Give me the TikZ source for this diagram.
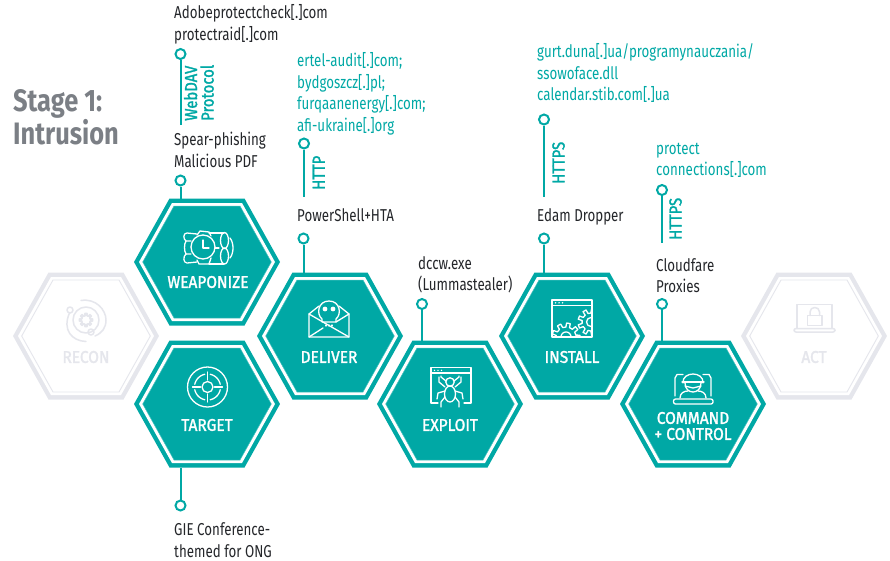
\documentclass[tikz,border=0pt]{standalone}
\usepackage{fontspec}
\setmainfont{Fira Sans}
\newfontfamily\narrowf[FakeStretch=0.775]{Fira Sans}
\newfontfamily\medf[FakeStretch=0.91,FakeBold=1.6]{Fira Sans}
\newfontfamily\protf[FakeStretch=0.85,FakeBold=1.6]{Fira Sans}
\newfontfamily\stagef[FakeStretch=0.82]{Fira Sans}
\definecolor{tealc}{HTML}{00A8A5}
\definecolor{teallight}{HTML}{4CC3C0}
\definecolor{ghost}{HTML}{E5E6EC}
\definecolor{inktext}{HTML}{24262A}
\definecolor{stagegray}{HTML}{7B7F85}
\tikzset{
  hexbox/.style={minimum width=146pt,minimum height=127pt,inner sep=0,outer sep=0},
  hexlabel/.style={inner sep=0,align=center,font=\medf\fontsize{17}{16}\selectfont},
  pinc/.style={circle,draw=tealc,fill=white,line width=2pt,minimum size=10pt,inner sep=0},
  conn/.style={draw=tealc,line width=2pt},
  dark/.style={anchor=west,inner sep=0,align=left,text=inktext,font=\narrowf\fontsize{17.2}{21.5}\selectfont},
  tealtext/.style={anchor=west,inner sep=0,align=left,text=tealc,font=\narrowf\fontsize{17.2}{21.5}\selectfont},
  prot/.style={rotate=90,anchor=south west,inner sep=0,align=left,text=tealc,font=\protf\fontsize{17.5}{16.5}\selectfont},
  ico/.style={line width=1.3pt,line cap=round,line join=round},
  innerteal/.style={fill=tealc,draw=teallight,line width=.5pt},
  innerghost/.style={fill=white,draw=ghost,line width=.9pt},
}
\newcommand\hexpoly[5]{% style, cx, cy, W, H
  \pgfmathsetmacro\hxT{#4-0.559*#5}
  \path[#1] ({#2-#4},#3) -- ({#2-\hxT},{#3-#5}) -- ({#2+\hxT},{#3-#5}) -- ({#2+#4},#3) -- ({#2+\hxT},{#3+#5}) -- ({#2-\hxT},{#3+#5}) -- cycle;
}
\newcommand\hexcell[5]{% name, cx, cy, colour, inner style
  \hexpoly{fill=#4}{#2}{#3}{73}{63.5}
  \hexpoly{fill=white}{#2}{#3}{68}{59}
  \hexpoly{#5}{#2}{#3}{64.3}{56}
  \node[hexbox] (#1) at (#2,#3) {};
}
\newcommand\gearline[6]{% style, cx, cy, r1, r2, teeth
  \pgfmathsetmacro\gstep{360/#6}
  \pgfmathsetmacro\gw{\gstep*0.27}
  \begin{scope}[shift={(#2,#3)}]
  \foreach \i in {1,...,#6}{
    \pgfmathsetmacro\ga{\i*\gstep}
    \draw[ico,#1] ({\ga-\gw}:#4) -- ({\ga-\gw*.7}:#5) -- ({\ga+\gw*.7}:#5) -- ({\ga+\gw}:#4) -- ({\ga+\gstep-\gw}:#4);
  }
  \end{scope}
}
\begin{document}
\begin{tikzpicture}[x=1pt,y=-1pt]
\useasboundingbox (0,0) rectangle (890,560);

% stage title
\node[anchor=west,inner sep=0,align=left,text=stagegray,font=\stagef\bfseries\fontsize{31}{33}\selectfont] (stage) at (13,117) {Stage 1:\\Intrusion};

% hexagons
\hexcell{recon}{86}{336}{ghost}{innerghost}
\hexcell{weaponize}{207}{262}{tealc}{innerteal}
\hexcell{target}{207}{404}{tealc}{innerteal}
\hexcell{deliver}{330}{336}{tealc}{innerteal}
\hexcell{exploit}{450}{404}{tealc}{innerteal}
\hexcell{install}{572}{336}{tealc}{innerteal}
\hexcell{command}{693}{404}{tealc}{innerteal}
\hexcell{act}{814}{336}{ghost}{innerghost}

% hexagon labels
\node[hexlabel,text=ghost] (lrecon) at (86,357) {RECON};
\node[hexlabel,text=white] (lweapon) at (208,282) {WEAPONIZE};
\node[hexlabel,text=white] (ltarget) at (207,425) {TARGET};
\node[hexlabel,text=white] (ldeliver) at (329,357) {DELIVER};
\node[hexlabel,text=white] (lexploit) at (450,425) {EXPLOIT};
\node[hexlabel,text=white] (linstall) at (572,357) {INSTALL};
\node[hexlabel,text=white] (lcommand) at (693,426) {COMMAND\\+ CONTROL};
\node[hexlabel,text=ghost] (lact) at (814,357) {ACT};

% pins
\node[pinc] (pwebdav) at (180.5,54) {};
\coordinate (ewebdav) at (180.5,125);
\draw[conn] (pwebdav) -- (ewebdav);
\node[pinc] (pweapon) at (180.5,180.5) {};
\draw[conn] (pweapon) -- (pweapon |- weaponize.north);
\node[pinc] (phttp) at (304,143.5) {};
\coordinate (ehttp) at (304,197);
\draw[conn] (phttp) -- (ehttp);
\node[pinc] (pdeliver) at (303.5,238.5) {};
\draw[conn] (pdeliver) -- (pdeliver |- deliver.north);
\node[pinc] (pexploit) at (422,304) {};
\draw[conn] (pexploit) -- (pexploit |- exploit.north);
\node[pinc] (phttps) at (544,119.5) {};
\coordinate (ehttps) at (544,197);
\draw[conn] (phttps) -- (ehttps);
\node[pinc] (pinstall) at (544,238.5) {};
\draw[conn] (pinstall) -- (pinstall |- install.north);
\node[pinc] (phttpsb) at (662,190) {};
\coordinate (ehttpsb) at (662,243);
\draw[conn] (phttpsb) -- (ehttpsb);
\node[pinc] (pcommand) at (662,304) {};
\draw[conn] (pcommand) -- (pcommand |- command.north);
\node[pinc] (ptarget) at (180.5,505.5) {};
\draw[conn] (ptarget) -- (ptarget |- target.south);

% protocol labels
\node[prot] (twebdav) at (214,121) {WebDAV\\Protocol};
\node[prot] (thttp) at (325,190) {HTTP};
\node[prot] (thttps) at (565,184) {HTTPS};
\node[prot] (thttpsb) at (682,240) {HTTPS};

% texts
\node[dark] (t1) at (174,24.5) {Adobeprotectcheck[.]com\\protectraid[.]com};
\node[dark] (t2) at (174,150) {Spear-phishing\\Malicious PDF};
\node[tealtext] (t3) at (297,94) {ertel-audit[.]com;\\bydgoszcz[.]pl;\\furqaanenergy[.]com;\\afi-ukraine[.]org};
\node[dark] (t4) at (297,215) {PowerShell+HTA};
\node[dark] (t5) at (418,275) {dccw.exe\\(Lummastealer)};
\node[tealtext] (t6) at (537,73) {gurt.duna[.]ua/programynauczania/\\ssowoface.dll\\calendar.stib.com[.]ua};
\node[dark] (t7) at (537,217) {Edam Dropper};
\node[tealtext] (t8) at (656,160.5) {protect\\connections[.]com};
\node[dark] (t9) at (656,275.5) {Cloudfare\\Proxies};
\node[dark] (t10) at (174,540) {GIE Conference-\\themed for ONG};

% RECON icon
\begin{scope}[ico,draw=ghost,line width=1.5pt]
  \draw (86,320) circle[radius=13];
  \draw (69.5,313) .. controls (62,330) and (72,341) .. (86,341.5);
  \draw (70,310) circle[radius=3];
  \draw (91,332) circle[radius=3];
  \draw (81,300.5) .. controls (96,298) and (106,310) .. (106,320) .. controls (106,328) and (102,333) .. (95,336);
\end{scope}
\gearline{draw=ghost,line width=1.7pt}{86}{320}{4.5}{6.5}{8}

% WEAPONIZE icon
\begin{scope}[ico,draw=white]
  \draw (203,247) circle[radius=12];
  \draw (203,240) -- (203,248) -- (209,248);
  \draw (197,234) -- (187,233) .. controls (183,233) and (183,239) .. (186,241) -- (191,241);
  \draw (191,254) -- (186,254) .. controls (183,256) and (183,263) .. (187,263) -- (197,262);
  \draw (186,241) .. controls (184,244) and (184,251) .. (186,254);
  \draw (197,235) -- (200,231) -- (209,232) -- (211,236);
  \draw (197,260) -- (199,264) -- (209,264) -- (211,258);
  \draw (209,233) -- (224,233);
  \draw (209,264) -- (224,264);
  \draw (215,248) -- (219,248);
  \draw (224.5,240.5) ellipse[x radius=4,y radius=8];
  \draw (224.5,256) ellipse[x radius=4,y radius=8];
  \draw (230,238) .. controls (234,243) and (234,253) .. (230,258);
\end{scope}

% TARGET icon
\begin{scope}[ico,draw=white]
  \draw (207.5,387) circle[radius=20];
  \draw (207.5,387) circle[radius=5.5];
  \draw (207.5,372) -- (207.5,380);
  \draw (207.5,394) -- (207.5,402);
  \draw (192.5,387) -- (200.5,387);
  \draw (214.5,387) -- (222.5,387);
  \begin{scope}[shift={(207.5,387)}]
    \foreach \a in {12,102,192,282}
      \draw plot[domain=\a:{\a+66},samples=12] (\x:13);
  \end{scope}
\end{scope}

% DELIVER icon
\begin{scope}[ico,draw=white]
  \draw (319,306) -- (309,314) -- (309,337) -- (349,337) -- (349,314) -- (339,306);
  \draw (309,314) -- (349,337);
  \draw (349,314) -- (336,322);
  \draw (309,337) -- (323,328);
  \draw (322,319) .. controls (316,314) and (318,301) .. (329,301) .. controls (340,301) and (342,314) .. (336,319) -- (336,322) -- (322,322) -- cycle;
  \fill[white] (325,309) circle[radius=2.4];
  \fill[white] (333,309) circle[radius=2.4];
  \draw (326,325) -- (326,326);
  \draw (329,325) -- (329,326);
  \draw (332,325) -- (332,326);
\end{scope}

% EXPLOIT icon
\begin{scope}[ico,draw=white]
  \draw (438,403) -- (431,403) -- (431,367.5) -- (471,367.5) -- (471,403) -- (464,403);
  \draw (431,373) -- (471,373);
  \foreach \dx in {434.5,438,441.5} \fill[white] (\dx,370.3) circle[radius=.8];
  \draw (450,394) ellipse[x radius=5.5,y radius=8];
  \draw (450,382) circle[radius=4.2];
  \draw (446,381) -- (441,377) -- (441,376);
  \draw (454,381) -- (459,377) -- (459,376);
  \draw (445,387) -- (439,382) -- (439,377);
  \draw (455,387) -- (461,382) -- (461,377);
  \draw (445,391) -- (438,393) -- (437,399);
  \draw (455,391) -- (462,393) -- (463,399);
  \draw (445,397) -- (441,402) -- (441,407);
  \draw (455,397) -- (459,402) -- (459,407);
\end{scope}

% INSTALL icon
\begin{scope}[ico,draw=white]
  \draw (552,300) rectangle (592,337);
  \draw (552,305.5) -- (592,305.5);
  \foreach \dx in {555.5,559,562.5} \fill[white] (\dx,302.8) circle[radius=.8];
  \begin{scope}[shift={(566,337)}]
    \draw plot[domain=180:360,samples=16] (\x:5);
  \end{scope}
\end{scope}
\begin{scope}
  \clip (552,306) rectangle (591,336.5);
  \gearline{draw=white}{566}{337}{10}{14}{9}
  \gearline{draw=white}{591}{322}{9}{13}{9}
  \draw[ico,draw=white] (591,322) circle[radius=4.5];
\end{scope}

% COMMAND icon
\begin{scope}[ico,draw=white]
  \draw (683,374.5) -- (677,374.5) -- (675,378) -- (675,396);
  \draw (703,374.5) -- (709,374.5) -- (711,378) -- (711,396);
  \draw[rounded corners=2pt] (673.5,399) rectangle (713,404);
  \draw (683,383) .. controls (682,371) and (704,371) .. (703,383);
  \draw (682,382) -- (704,382);
  \draw (685,383) .. controls (685,395) and (701,395) .. (701,383);
  \draw (685,386) -- (693,388) -- (701,386);
  \draw (680,398) .. controls (680,393) and (684,391) .. (688,391);
  \draw (706,398) .. controls (706,393) and (702,391) .. (698,391);
\end{scope}

% ACT icon
\begin{scope}[ico,draw=ghost,line width=1.5pt]
  \draw (797,328) -- (797,304.5) -- (832,304.5) -- (832,328);
  \draw[rounded corners=2pt] (794,328.5) rectangle (835,332);
  \draw (807.5,315.5) rectangle (822,325.5);
  \draw (810,315.5) -- (810,312) .. controls (810,306) and (819.5,306) .. (819.5,312) -- (819.5,315.5);
\end{scope}
\end{tikzpicture}
\end{document}
